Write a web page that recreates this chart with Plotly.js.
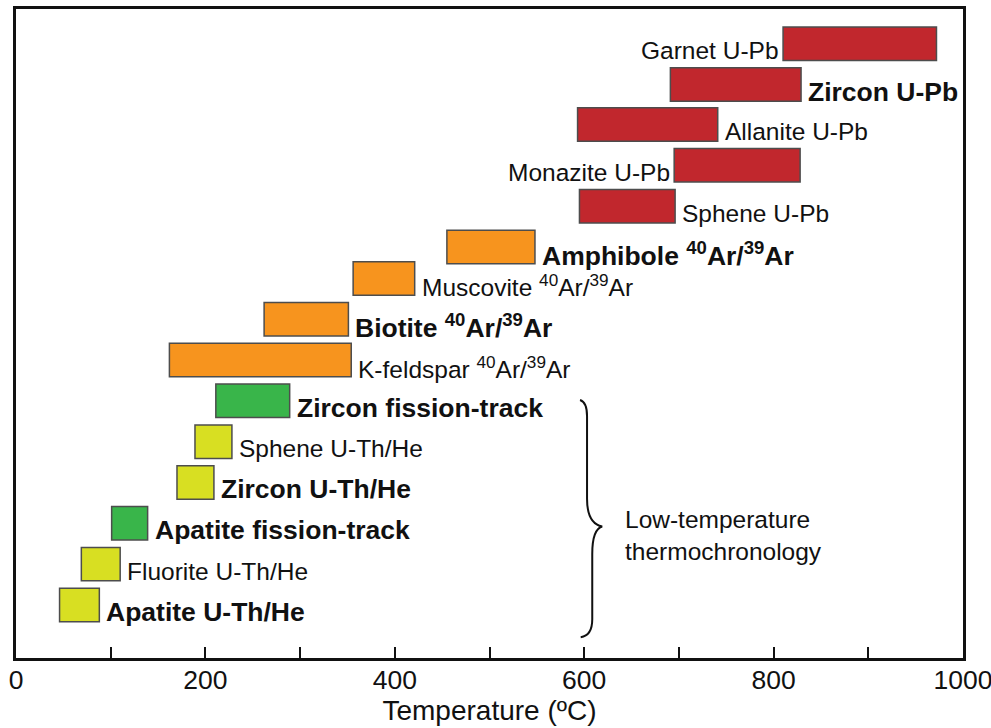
<!DOCTYPE html>
<html>
<head>
<meta charset="utf-8">
<script src="https://cdn.plot.ly/plotly-3.0.1.min.js"></script>
<style>html,body{margin:0;padding:0;background:#fff;}#chart{width:991px;height:728px;}</style>
</head>
<body>
<div id="chart"></div>
<script>
// ---- data (bottom row first) ----
const methods = [
  "Apatite U-Th/He", "Fluorite U-Th/He", "Apatite fission-track", "Zircon U-Th/He",
  "Sphene U-Th/He", "Zircon fission-track", "K-feldspar <sup>40</sup>Ar/<sup>39</sup>Ar",
  "Biotite <sup>40</sup>Ar/<sup>39</sup>Ar", "Muscovite <sup>40</sup>Ar/<sup>39</sup>Ar",
  "Amphibole <sup>40</sup>Ar/<sup>39</sup>Ar", "Sphene U-Pb", "Monazite U-Pb",
  "Allanite U-Pb", "Zircon U-Pb", "Garnet U-Pb"
];
const tempLow  = [46, 69, 101, 170, 189, 211, 162, 262, 356, 455, 595, 695, 593, 691, 810];
const tempHigh = [88, 110, 139, 209, 228, 289, 354, 351, 421, 548, 696, 828, 741, 829, 972];
const system   = ["He", "He", "FT", "He", "He", "FT", "Ar", "Ar", "Ar", "Ar", "UPb", "UPb", "UPb", "UPb", "UPb"];
const rowPos   = [1, 2, 3, 4, 5, 6, 7, 8, 9, 9.77, 10.77, 11.77, 12.77, 13.75, 14.75];
const emphasised = ["Apatite U-Th/He", "Apatite fission-track", "Zircon U-Th/He", "Zircon fission-track",
  "Biotite <sup>40</sup>Ar/<sup>39</sup>Ar", "Amphibole <sup>40</sup>Ar/<sup>39</sup>Ar", "Zircon U-Pb"];
const labelLeft = ["Monazite U-Pb", "Garnet U-Pb"];
const xTicks = [0, 200, 400, 600, 800, 1000];
const bracketNote = "Low-temperature<br>thermochronology";
// bracket spans these rows (low-temperature methods)
const bracketRows = [0.21, 6.02];
const bracketTip = [619, 2.92];

// ---- styles ----
const colorOf = {He: "#D8DF22", FT: "#39B54A", Ar: "#F7941E", UPb: "#C1272D"};
const FONT = "Liberation Sans, Arial, Helvetica, sans-serif";

const bars = {
  type: "bar",
  orientation: "h",
  y: rowPos,
  base: tempLow,
  x: tempHigh.map((h, i) => h - tempLow[i]),
  width: 0.82,
  marker: {color: system.map(s => colorOf[s]), line: {color: "#4d4d4d", width: 1.5}},
  hoverinfo: "skip",
  showlegend: false
};

const annotations = methods.map((m, i) => {
  const bold = emphasised.includes(m);
  const left = labelLeft.includes(m);
  return {
    x: left ? tempLow[i] : tempHigh[i],
    y: rowPos[i],
    xref: "x", yref: "y",
    text: bold ? "<b>" + m + "</b>" : m,
    showarrow: false,
    xanchor: left ? "right" : "left",
    yanchor: "middle",
    xshift: left ? -2 : 5,
    yshift: -7,
    font: {family: FONT, size: bold ? 26.5 : 24.5, color: "#111"}
  };
});
annotations.push({
  x: 641, y: 2.69, xref: "x", yref: "y",
  text: bracketNote, showarrow: false, xanchor: "left", yanchor: "middle", align: "left",
  font: {family: FONT, size: 24.5, color: "#111"}
});

// curly bracket drawn in data coordinates
const bx0 = 603, bx1 = 608.5;
const [yb, yt] = bracketRows;
const bracePath = `M 595.6,${yt} Q ${bx0},${yt - 0.05} ${bx0},${yt - 0.4} ` +
  `L ${bx0},3.6 Q ${bx0},3.0 ${bracketTip[0]},${bracketTip[1]} ` +
  `Q ${bx1},2.85 ${bx1},2.25 L ${bx1},0.65 Q ${bx1},${yb + 0.04} 596.3,${yb}`;

const layout = {
  width: 991, height: 728,
  margin: {l: 16, r: 28, t: 9, b: 70},
  paper_bgcolor: "#fff", plot_bgcolor: "#fff",
  font: {family: FONT, color: "#111"},
  xaxis: {
    range: [0, 1000],
    tickvals: xTicks,
    ticks: "inside", ticklen: 11, tickwidth: 2, tickcolor: "#111",
    minor: {dtick: 100, tick0: 0, ticks: "inside", ticklen: 11, tickwidth: 2, tickcolor: "#111", showgrid: false},
    showgrid: false, zeroline: false,
    showline: true, linewidth: 3, linecolor: "#111", mirror: true,
    ticklabeloverflow: "allow",
    ticklabelstandoff: -4,
    tickfont: {family: FONT, size: 26.5, color: "#111"},
    title: {text: "Temperature (ºC)", font: {family: FONT, size: 28, color: "#111"}, standoff: 6}
  },
  yaxis: {
    range: [-0.3, 15.6],
    showticklabels: false, ticks: "", showgrid: false, zeroline: false,
    showline: true, linewidth: 3, linecolor: "#111", mirror: true
  },
  annotations: annotations,
  shapes: [{type: "path", xref: "x", yref: "y", path: bracePath, line: {color: "#111", width: 2}}],
  bargap: 0
};

Plotly.newPlot("chart", [bars], layout, {displayModeBar: false, staticPlot: true});
</script>
</body>
</html>
